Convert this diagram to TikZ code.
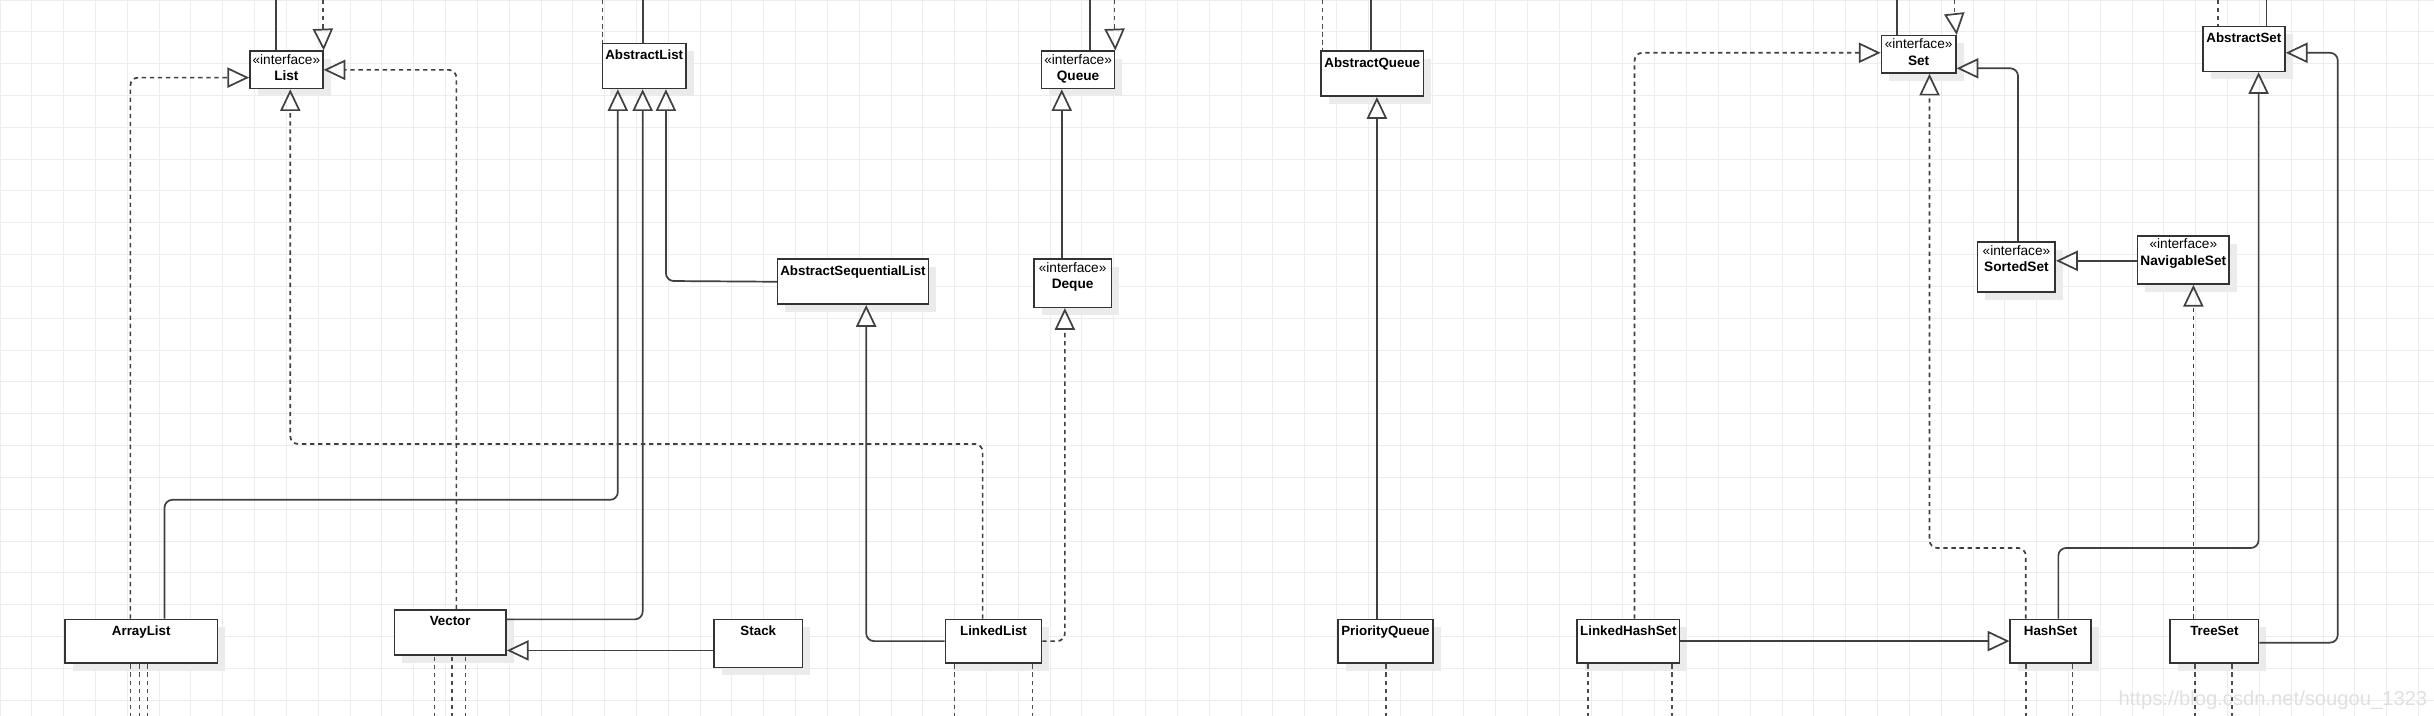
\documentclass[tikz,border=0pt]{standalone}
\usepackage{fontspec}
\setmainfont{Liberation Sans}
\usetikzlibrary{arrows.meta,fit}
\begin{document}
\begin{tikzpicture}[x=0.5pt,y=-0.5pt,
  box/.style={draw=black!80,line width=0.5pt,fill=white,inner sep=0pt},
  shd/.style={fill=black!8},
  ttl/.style={anchor=north,font=\fontsize{4.3}{5.2}\selectfont\bfseries,inner sep=2.2pt,align=center},
  itf/.style={anchor=north,font=\fontsize{4.4}{5.4}\selectfont,inner sep=1pt,align=center},
  conn/.style={draw=black!75,line width=0.55pt,rounded corners=2.5},
  real/.style={conn,dash pattern=on 1.4pt off 1.2pt},
  gen/.style={-{Triangle[open,length=7pt,width=6.5pt]}},
  stub/.style={draw=black!70,line width=0.5pt,dash pattern=on 1.4pt off 1.2pt}]
\useasboundingbox (0,0) rectangle (1568,461);
\fill[white] (0,0) rectangle (1568,461);
\foreach \i in {0,...,77} \draw[black!7,line width=0.3pt] (\i*20.5,0) -- (\i*20.5,461);
\foreach \j in {0,...,23} \draw[black!7,line width=0.3pt] (0,\j*20.5) -- (1568,\j*20.5);

\newcommand{\cls}[6]{\fill[shd] (#2+5,#3+5) rectangle (#4+5,#5+5); \node[box,fit={(#2,#3)(#4,#5)}] (#1) {}; \node[ttl] at (#1.north) {#6};}
\newcommand{\itfc}[6]{\fill[shd] (#2+5,#3+5) rectangle (#4+5,#5+5); \node[box,fit={(#2,#3)(#4,#5)}] (#1) {}; \node[itf] at (#1.north) {«interface»\\\textbf{#6}};}

% top stubs
\draw[conn] (178,0) -- (178,33);
\draw[stub] (208,0) -- (208,19);
\draw[conn] (414,0) -- (414,28);
\draw[stub] (388,0) -- (388,28);
\draw[conn] (702,0) -- (702,33);
\draw[stub] (718,0) -- (718,19);
\draw[stub] (852,0) -- (852,33);
\draw[conn] (883,0) -- (883,33);
\draw[conn] (1222,0) -- (1222,23);
\draw[stub] (1259,0) -- (1259,9);
\draw[stub] (1429,0) -- (1429,17);
\draw[conn] (1460,0) -- (1460,17);

\itfc{List}{161}{33}{208}{57}{List}
\cls{AbstractList}{388}{28}{442}{57}{AbstractList}
\cls{ASL}{501}{167}{598}{196}{AbstractSequentialList}
\itfc{Queue}{671}{33}{718}{57}{Queue}
\itfc{Deque}{666}{167}{716}{198}{Deque}
\cls{AbstractQueue}{851}{33}{917}{62}{AbstractQueue}
\itfc{Set}{1212}{23}{1260}{47}{Set}
\cls{AbstractSet}{1419}{17}{1472}{46}{AbstractSet}
\itfc{SortedSet}{1274}{156}{1324}{188}{SortedSet}
\itfc{NavigableSet}{1377}{152}{1436}{183}{NavigableSet}
\cls{ArrayList}{42}{399}{140}{427}{ArrayList}
\cls{Vector}{254}{393}{326}{422}{Vector}
\cls{Stack}{460}{399}{517}{430}{Stack}
\cls{LinkedList}{609}{399}{671}{427}{LinkedList}
\cls{PriorityQueue}{862}{399}{923}{427}{PriorityQueue}
\cls{LinkedHashSet}{1016}{399}{1082}{427}{LinkedHashSet}
\cls{HashSet}{1295}{399}{1347}{427}{HashSet}
\cls{TreeSet}{1398}{399}{1455}{427}{TreeSet}

% top arrowheads onto boxes
\coordinate (lt) at (208,19); \draw[conn,gen] (lt) -- (List.north east);
\coordinate (qt) at (718,19); \draw[conn,gen] (qt) -- (Queue.north east);
\coordinate (st) at (1259,9); \draw[conn,gen] (st) -- (Set.north east);

% connectors
\draw[real,gen] (ArrayList.north -| 84,0) -- (84,50) -- (List.west |- 0,50);
\draw[conn,gen] (ArrayList.north -| 106,0) -- (106,322) -- (398,322) -- (AbstractList.south -| 398,0);
\draw[conn,gen] (Vector.east |- 0,399) -- (414,399) -- (AbstractList.south -| 414,0);
\draw[real,gen] (Vector.north -| 294,0) -- (294,45) -- (List.east |- 0,45);
\draw[conn,gen] (Stack.west |- 0,419) -- (Vector.east |- 0,419);
\draw[conn,gen] (ASL.west) -- (429,181) -- (AbstractList.south -| 429,0);
\draw[conn,gen] (LinkedList.west |- 0,413) -- (558,413) -- (ASL.south -| 558,0);
\draw[real,gen] (LinkedList.north -| 633,0) -- (633,286) -- (187,286) -- (List.south -| 187,0);
\draw[real,gen] (LinkedList.east |- 0,413) -- (686,413) -- (Deque.south -| 686,0);
\draw[conn,gen] (Deque.north -| 684,0) -- (Queue.south -| 684,0);
\draw[conn,gen] (PriorityQueue.north -| 887,0) -- (AbstractQueue.south -| 887,0);
\draw[real,gen] (LinkedHashSet.north -| 1053,0) -- (1053,34) -- (Set.west |- 0,34);
\draw[conn,gen] (LinkedHashSet.east |- 0,413) -- (HashSet.west |- 0,413);
\draw[real,gen] (HashSet.north -| 1305,0) -- (1305,353) -- (1243,353) -- (Set.south -| 1243,0);
\draw[conn,gen] (HashSet.north -| 1326,0) -- (1326,353) -- (1455,353) -- (AbstractSet.south -| 1455,0);
\draw[conn,gen] (TreeSet.east |- 0,414) -- (1506,414) -- (1506,34) -- (AbstractSet.east |- 0,34);
\draw[real,gen] (TreeSet.north -| 1413,0) -- (NavigableSet.south -| 1413,0);
\draw[conn,gen] (NavigableSet.west |- 0,168) -- (SortedSet.east |- 0,168);
\draw[conn,gen] (SortedSet.north -| 1300,0) -- (1300,44) -- (Set.east |- 0,44);

% bottom stubs
\foreach \x in {84,90,95} \draw[stub] (\x,428) -- (\x,461);
\foreach \x in {280,291,300} \draw[stub] (\x,423) -- (\x,461);
\foreach \x in {615,665} \draw[stub] (\x,428) -- (\x,461);
\foreach \x in {893} \draw[stub] (\x,428) -- (\x,461);
\foreach \x in {1023,1077} \draw[stub] (\x,428) -- (\x,461);
\foreach \x in {1305,1335} \draw[stub] (\x,428) -- (\x,461);
\foreach \x in {1414,1438} \draw[stub] (\x,428) -- (\x,461);

\node[anchor=east,text=black!12,font=\fontsize{6.5}{7}\selectfont,inner sep=0] (wm) at (1564,451) {https://blog.csdn.net/sougou\_1323};
\end{tikzpicture}
\end{document}
